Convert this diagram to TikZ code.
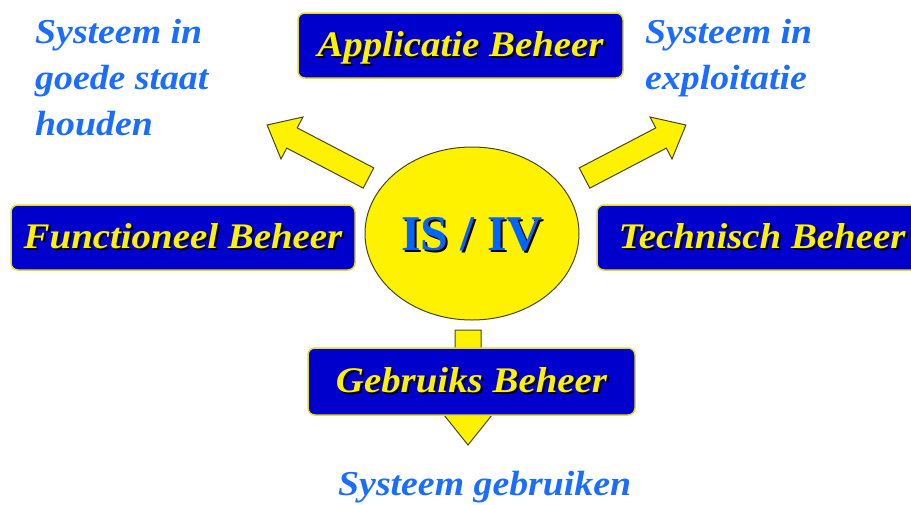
\documentclass[tikz,border=0pt]{standalone}
\usepackage{fontspec}
\setmainfont{Liberation Serif}
\newfontfamily\widefont{Liberation Serif}[FakeStretch=1.08]
\usetikzlibrary{shapes.geometric}

\definecolor{boxblue}{RGB}{0,0,204}
\definecolor{labelblue}{RGB}{26,109,255}
\definecolor{coreblue}{RGB}{0,102,255}
\definecolor{rimyellow}{RGB}{228,218,40}
\definecolor{outline}{RGB}{70,70,35}

% coloured text with a black copy offset down and right
\newcommand\dropshadowtext[2]{\leavevmode\rlap{\kern2pt\raisebox{-2pt}{\color{black}#2}}{\color{#1}#2}}

\tikzset{
  rolebox/.style={draw=rimyellow, line width=1.5pt, fill=boxblue,
    rounded corners=7pt, inner sep=0pt, text height=24pt, text depth=2pt,
    font=\widefont\bfseries\itshape\fontsize{36}{40}\selectfont},
  blockarrow/.style={fill=yellow, draw=outline, line width=1pt},
  note/.style={text=labelblue, inner sep=0pt, align=left,
    font=\widefont\bfseries\itshape\fontsize{35}{46}\selectfont},
  core/.style={ellipse, fill=yellow, draw=outline, line width=1pt,
    inner sep=0pt, minimum width=214pt, minimum height=173pt,
    text height=35pt, text depth=2pt,
    font=\bfseries\fontsize{50}{54}\selectfont}
}

\begin{document}
\begin{tikzpicture}[x=1pt, y=-1pt]
  \useasboundingbox (0,0) rectangle (911,504);
  \clip (0,0) rectangle (911,504);

  % block arrows leaving the centre
  \draw[blockarrow] (373.8,167.9) -- (297.2,127.9) -- (303,117) -- (267.1,125)
    -- (281,159) -- (286.7,148.1) -- (363.2,188.1) -- cycle;
  \draw[blockarrow] (579.2,167.9) -- (655.8,127.9) -- (650,117) -- (685.9,125)
    -- (672,159) -- (666.3,148.1) -- (589.8,188.1) -- cycle;
  \draw[blockarrow] (455,330) -- (481,330) -- (481,415) -- (492,415)
    -- (468,445) -- (444,415) -- (455,415) -- cycle;

  % centre
  \node[core] (isiv) at (472,233.5) {\dropshadowtext{coreblue}{IS / IV}};

  % the four kinds of management
  \node[rolebox, minimum width=325pt, minimum height=65pt] (app) at (460.5,45.5)
    {\dropshadowtext{yellow}{Applicatie Beheer}};
  \node[rolebox, minimum width=344pt, minimum height=65pt] (func) at (183,237.5)
    {\dropshadowtext{yellow}{Functioneel Beheer}};
  \node[rolebox, minimum width=330pt, minimum height=65pt] (tech) at (762,237.5)
    {\dropshadowtext{yellow}{Technisch Beheer}};
  \node[rolebox, minimum width=327pt, minimum height=67pt] (use) at (471.5,381.5)
    {\dropshadowtext{yellow}{Gebruiks Beheer}};

  % outcomes (base anchor sits on the last line)
  \node[note, anchor=base west] (keep) at (35,135) {Systeem in\\goede staat\\houden};
  \node[note, anchor=base west] (run) at (645,89) {Systeem in\\exploitatie};
  \node[note, anchor=base west] (usage) at (338,495) {Systeem gebruiken};
\end{tikzpicture}
\end{document}
